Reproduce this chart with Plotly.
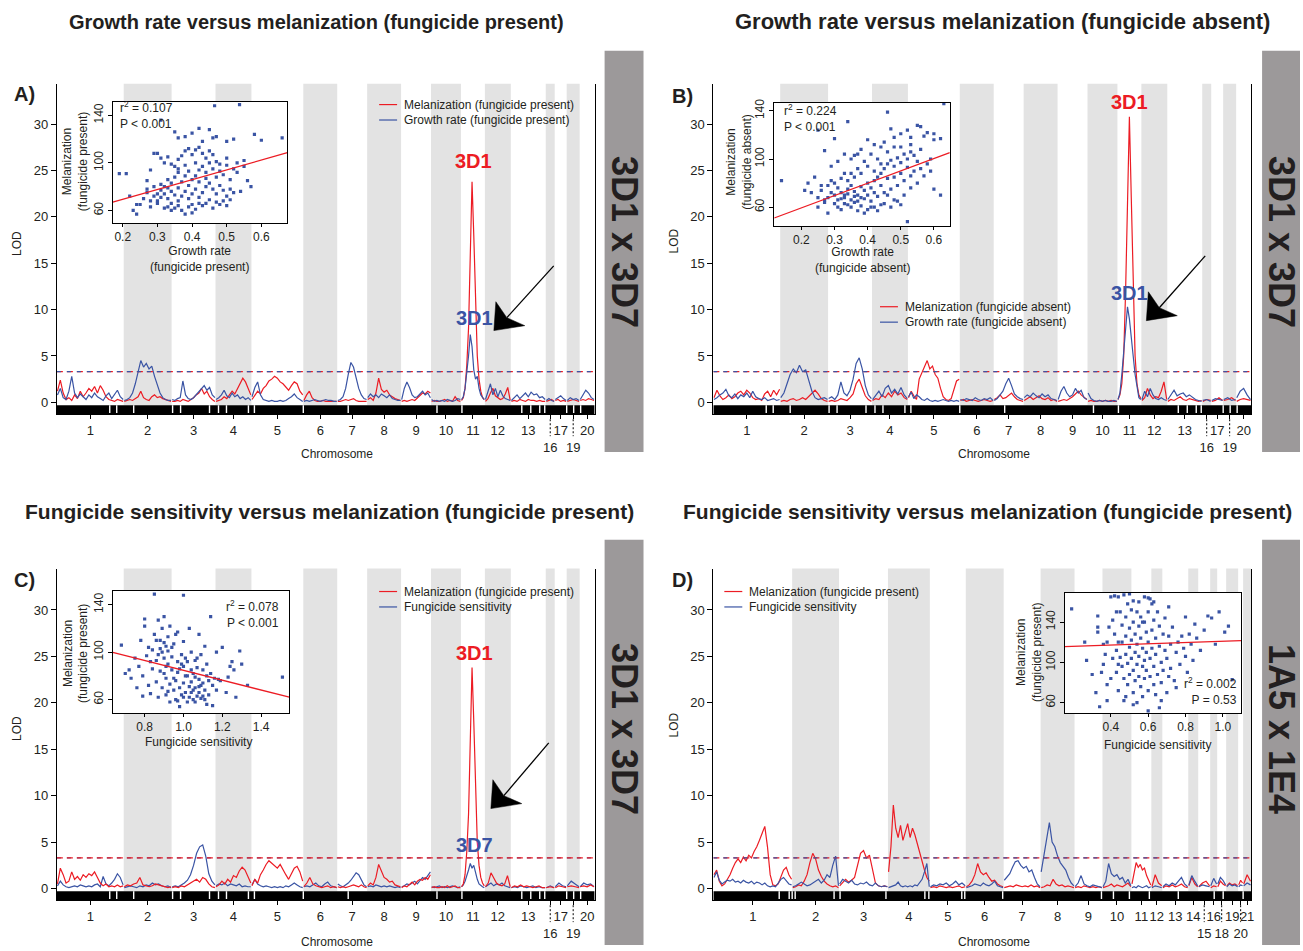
import plotly.graph_objects as go

W, H = 1303, 951
RED = "#ec1c24"
BLUE = "#3a54a4"
BAND = "#e3e3e3"
SIDE = "#9c999a"
TXT = "#231f20"
FONT = "Liberation Sans, Arial, Helvetica, sans-serif"

# ---------------- chromosome maps ----------------
CHR_3D = ["1", "2", "3", "4", "5", "6", "7", "8", "9", "10", "11", "12", "13", "16", "17", "19", "20"]
LEN_3D = [67, 48, 44, 36, 52, 34, 30, 34, 30, 30, 24, 26, 35, 9, 12, 13, 15]
LOW_3D = ["16", "19"]
GAPS_3D = [53, 60, 77, 116, 124, 153, 162, 170, 192, 198, 247, 292, 381, 406, 466, 475, 484, 489, 511, 518, 525]

CHR_1A = ["1", "2", "3", "4", "5", "6", "7", "8", "9", "10", "11", "12", "13", "14", "15", "16", "18", "19", "20", "21"]
LEN_1A = [79, 47, 49, 42, 36, 38, 37, 34, 28, 29, 20, 11, 26, 10, 12, 7, 9, 12, 5, 8]
LOW_1A = ["15", "18", "20"]
GAPS_1A = [66, 76, 79, 82, 121, 127, 173, 212, 216, 249, 252, 290, 389, 401, 417, 437, 466, 502, 511, 531]

THRESH = [3.3, 3.3, 3.3, 3.3]

# ---------------- LOD profiles (one list per chromosome) ----------------
A_RED = [
    [1.2, 2.4, 1.0, 0.3, 0.5, 0.2, 0.8, 0.4, 1.2, 0.6, 1.0, 1.5, 1.2, 1.7, 1.0, 1.8, 1.3, 0.6, 0.3, 0.2, 0.1, 0.3, 0.2, 0.1],
    [0.1, 0.2, 0.3, 0.2, 0.4, 0.6, 1.2, 0.5, 0.3, 0.2, 0.6, 0.8, 0.5, 0.6, 0.4, 0.3, 0.2, 0.1],
    [0.1, 0.1, 0.2, 0.1, 0.3, 0.2, 0.1, 0.3, 0.5, 0.8, 1.0, 1.5, 0.9, 1.2, 0.6, 0.3, 0.1],
    [0.1, 0.2, 0.3, 0.6, 0.4, 0.8, 1.2, 0.9, 1.5, 2.0, 2.6, 2.2, 1.5, 0.8],
    [0.3, 0.8, 1.2, 0.9, 1.5, 1.8, 2.3, 2.5, 2.8, 2.6, 2.2, 2.0, 1.6, 1.3, 1.8, 2.2, 2.0, 1.2, 0.8],
    [0.2, 0.8, 1.2, 0.5, 0.2, 0.1, 0.1, 0.2, 0.1, 0.1, 0.1, 0.1, 0.1],
    [0.1, 0.1, 0.2, 0.3, 0.2, 0.3, 0.4, 0.2, 0.1, 0.1, 0.1, 0.1],
    [0.3, 0.5, 0.2, 1.0, 2.6, 1.4, 1.1, 1.3, 0.8, 0.6, 0.4, 0.3, 0.2],
    [0.1, 0.2, 0.1, 0.2, 0.3, 0.2, 0.5, 0.8, 1.0, 0.9, 1.2, 1.0],
    [0.1, 0.2, 0.1, 0.1, 0.2, 0.3, 0.1, 0.2, 0.1, 0.6, 0.2, 0.1],
    [0.2, 0.5, 1.5, 4.0, 8.0, 15.0, 23.8, 18.0, 10.0, 5.0, 2.5, 1.2, 0.5, 0.3],
    [0.1, 0.4, 1.0, 1.5, 0.7, 0.5, 0.3, 0.4, 0.9, 1.6, 0.2],
    [0.1, 0.2, 0.1, 0.3, 0.2, 0.1, 0.3, 0.2, 0.2, 0.1, 0.2, 0.1, 0.1],
    [0.1, 0.2, 0.3, 0.1],
    [0.2, 0.3, 0.1, 0.2, 0.1],
    [0.1, 0.2, 0.3, 0.2, 0.1],
    [0.2, 0.3, 0.2, 0.4, 0.3, 0.2],
]
A_BLUE = [
    [0.8, 1.5, 0.5, 0.3, 1.2, 2.8, 1.0, 0.5, 0.9, 0.6, 0.3, 0.8, 0.5, 1.0, 0.6, 0.4, 0.2, 0.7, 1.0, 0.4, 0.8, 1.3, 0.6, 0.3],
    [0.2, 0.3, 0.5, 1.0, 2.0, 3.2, 4.5, 3.8, 4.2, 3.6, 3.9, 2.8, 2.0, 1.0, 0.5, 0.3, 0.2, 0.2],
    [0.3, 0.2, 0.4, 0.5, 2.3, 0.8, 0.4, 0.3, 0.5, 0.8, 1.2, 1.5, 1.8, 1.3, 1.6, 0.8, 0.5],
    [0.3, 0.5, 0.8, 1.3, 0.7, 0.5, 1.0, 0.6, 0.8, 0.4, 0.6, 0.3, 0.5, 0.2],
    [0.6, 1.6, 2.2, 0.8, 0.3, 0.2, 0.1, 0.2, 0.1, 0.1, 0.2, 0.1, 0.2, 0.4, 0.6, 0.9, 0.5, 0.3, 0.1],
    [0.1, 0.2, 0.1, 0.2, 0.3, 0.2, 0.1, 0.2, 0.3, 0.2, 0.2, 0.1, 0.1],
    [0.2, 0.3, 0.6, 1.5, 3.0, 4.3, 3.8, 2.5, 1.5, 0.8, 0.4, 0.3],
    [0.5, 0.9, 0.6, 0.8, 0.5, 0.9, 0.7, 0.5, 0.8, 0.4, 0.3, 0.2, 0.2],
    [0.3, 1.5, 2.2, 1.6, 0.8, 0.5, 0.6, 0.9, 1.2, 0.8, 1.0, 0.5],
    [0.3, 0.1, 0.2, 0.1, 0.2, 0.1, 0.3, 0.2, 0.1, 0.2, 0.4, 0.3],
    [0.3, 0.6, 1.5, 3.0, 5.0, 7.3, 6.0, 3.5, 2.5, 2.8, 1.5, 0.8, 0.5, 0.3],
    [0.3, 1.2, 2.0, 0.8, 1.5, 0.6, 1.3, 0.7, 0.4, 0.3, 0.2],
    [0.2, 0.5, 0.8, 0.4, 0.7, 1.0, 0.6, 1.1, 0.8, 0.9, 0.5, 0.6, 0.3],
    [0.2, 0.4, 0.2, 0.1],
    [0.3, 0.5, 0.7, 0.4, 0.2],
    [0.2, 0.5, 0.3, 0.4, 0.2],
    [0.3, 0.8, 1.3, 1.0, 0.5, 0.3],
]
B_RED = [
    [0.5, 1.3, 0.7, 0.3, 0.5, 0.8, 0.4, 0.6, 1.0, 1.2, 0.8, 1.3, 1.0, 0.5, 0.3, 0.4, 0.2, 0.9, 1.2, 0.6, 1.3, 0.8, 1.4],
    [0.1, 0.2, 0.1, 0.3, 0.4, 0.2, 0.3, 0.5, 0.3, 0.6, 1.0, 1.3, 0.9, 0.4, 0.2, 0.1],
    [0.1, 0.2, 0.1, 0.2, 0.4, 0.3, 0.2, 0.5, 0.9, 2.0, 2.5, 1.6, 0.7, 0.3, 0.1],
    [0.2, 0.4, 0.3, 0.8, 0.5, 1.0, 0.6, 1.2, 0.8, 1.0, 0.5, 0.3],
    [0.5, 1.2, 0.7, 0.3, 2.5, 3.2, 3.8, 4.5, 3.6, 3.9, 3.0, 2.6, 1.5, 0.6, 0.3, 0.2, 0.4, 1.5, 2.3, 2.5],
    [0.2, 0.3, 0.1, 0.2, 0.3, 0.2, 0.1, 0.2, 0.3, 0.2, 0.1, 0.2],
    [0.3, 0.5, 0.8, 0.4, 0.5, 0.8, 1.0, 0.6, 0.3, 0.2, 0.1],
    [0.2, 0.4, 0.6, 0.3, 0.5, 0.7, 0.4, 0.3, 0.5, 0.2, 0.3, 0.1],
    [0.1, 0.2, 0.3, 0.2, 0.4, 0.6, 0.9, 1.2, 0.8, 0.5, 0.3],
    [0.1, 0.2, 0.1, 0.1, 0.2, 0.1, 0.2, 0.1, 0.2, 0.1, 0.1],
    [0.3, 0.8, 2.0, 5.0, 12.0, 22.0, 30.8, 22.0, 12.0, 5.0, 2.0, 0.8, 0.4],
    [0.2, 0.5, 1.5, 0.8, 0.4, 0.6, 0.5, 1.2, 2.2, 0.3],
    [0.1, 0.3, 0.2, 0.4, 0.6, 0.3, 0.2, 0.4, 0.3, 0.2, 0.1, 0.2],
    [0.1, 0.3, 0.2],
    [0.1, 0.2, 0.5, 0.2],
    [0.2, 0.3, 0.5, 0.2],
    [0.1, 0.3, 0.4, 0.3, 0.2],
]
B_BLUE = [
    [0.3, 0.5, 0.8, 1.0, 1.4, 0.7, 0.5, 0.9, 0.4, 0.8, 0.6, 1.0, 0.5, 1.2, 0.6, 0.4, 0.3, 0.5, 0.2, 0.3, 0.4, 0.2, 0.3],
    [0.5, 1.0, 2.0, 3.0, 3.6, 3.2, 4.0, 3.3, 3.5, 2.2, 1.2, 0.5, 0.3, 0.4, 0.5, 0.3],
    [0.4, 0.6, 0.3, 0.8, 2.2, 1.0, 0.7, 1.3, 2.5, 4.2, 4.8, 3.6, 1.8, 0.8, 0.4],
    [0.3, 0.8, 1.2, 0.6, 1.5, 1.8, 1.0, 1.4, 0.9, 1.6, 0.8, 0.4],
    [0.6, 1.1, 0.4, 0.8, 0.6, 0.3, 0.2, 0.4, 0.2, 0.1, 0.2, 0.1, 0.2, 0.3, 0.2, 0.1, 0.2, 0.1, 0.2, 0.1],
    [0.3, 0.2, 0.4, 0.3, 0.2, 0.5, 0.3, 0.2, 0.4, 0.3, 0.5, 0.2],
    [0.2, 0.4, 0.8, 1.2, 2.0, 2.6, 1.8, 0.9, 0.6, 0.4, 0.3],
    [0.5, 0.8, 0.6, 1.0, 0.7, 0.5, 0.9, 0.6, 0.8, 0.4, 0.3, 0.2],
    [0.3, 1.2, 1.7, 1.0, 0.6, 0.8, 1.5, 1.0, 1.3, 0.5, 0.3],
    [1.0, 0.4, 0.2, 0.1, 0.2, 0.1, 0.2, 0.1, 0.1, 0.2, 0.1],
    [0.3, 1.0, 3.0, 5.5, 8.0, 10.3, 9.0, 6.5, 5.0, 3.0, 1.5, 0.5, 0.3],
    [0.3, 1.2, 0.6, 1.5, 0.8, 0.4, 0.3, 0.5, 0.3, 0.2],
    [0.3, 0.8, 1.3, 0.7, 0.9, 1.0, 0.6, 0.8, 0.5, 0.3, 0.2, 0.1],
    [0.2, 0.3, 0.1],
    [0.2, 0.4, 0.3, 0.2],
    [0.3, 0.5, 0.2, 0.3],
    [0.5, 1.2, 1.5, 0.8, 0.3],
]
C_RED = [
    [0.5, 2.2, 1.5, 0.6, 0.8, 1.8, 1.0, 1.3, 0.9, 1.5, 1.2, 1.6, 1.4, 1.8, 1.2, 0.6, 0.3, 0.5, 0.2, 0.3, 0.2, 0.4, 0.2, 0.3],
    [0.2, 0.4, 0.3, 0.5, 0.6, 1.2, 0.4, 0.3, 0.2, 0.3, 0.5, 0.4, 0.3, 0.2, 0.1, 0.2],
    [0.1, 0.2, 0.1, 0.3, 0.2, 0.4, 0.6, 0.8, 1.0, 0.7, 1.2, 1.0, 0.5, 0.2, 0.1],
    [0.2, 0.4, 0.8, 0.5, 1.0, 0.7, 1.4, 1.2, 1.9, 2.3, 2.0, 1.2, 0.6],
    [0.3, 1.0, 0.6, 1.5, 2.0, 2.6, 3.0, 2.7, 2.5, 2.2, 2.6, 2.0, 1.5, 1.0, 1.6, 2.2, 2.4, 1.8, 0.8],
    [0.2, 0.6, 1.2, 0.5, 0.3, 0.2, 0.1, 0.2, 0.3, 0.1, 0.2, 0.1],
    [0.2, 0.1, 0.2, 0.1, 0.2, 0.3, 0.4, 0.3, 0.2, 0.4, 0.2, 0.1],
    [0.3, 0.6, 0.4, 1.2, 2.6, 1.8, 1.2, 1.0, 0.7, 0.8, 0.4, 0.3, 0.2],
    [0.1, 0.3, 0.2, 0.5, 0.7, 0.4, 0.8, 1.0, 0.9, 1.2, 1.0, 1.5],
    [0.1, 0.2, 0.1, 0.1, 0.2, 0.1, 0.3, 0.1, 0.2, 0.3, 0.1, 0.1],
    [0.2, 0.5, 1.5, 4.0, 8.0, 15.0, 23.8, 18.0, 10.0, 5.0, 2.5, 1.2, 0.6, 0.3],
    [0.2, 0.6, 1.7, 1.2, 0.6, 0.4, 0.3, 0.5, 1.4, 0.2],
    [0.1, 0.3, 0.2, 0.4, 0.2, 0.3, 0.2, 0.1, 0.2, 0.3, 0.1, 0.1],
    [0.1, 0.2, 0.1],
    [0.1, 0.3, 0.2, 0.1],
    [0.2, 0.3, 0.2, 0.1],
    [0.2, 0.3, 0.2, 0.4, 0.2],
]
C_BLUE = [
    [0.3, 0.8, 0.4, 0.2, 0.1, 0.2, 0.3, 0.2, 0.4, 0.3, 0.2, 0.3, 0.2, 0.4, 0.5, 0.2, 1.3, 0.5, 0.3, 0.6, 1.0, 1.6, 1.2, 0.4],
    [0.1, 0.2, 0.3, 0.2, 0.1, 0.3, 0.2, 0.4, 0.3, 0.6, 0.4, 0.5, 0.3, 0.2, 0.3, 0.1],
    [0.2, 0.3, 0.2, 0.4, 0.6, 0.9, 1.5, 2.5, 3.8, 4.5, 4.7, 3.5, 1.6, 0.8, 0.4],
    [0.3, 0.5, 0.4, 0.6, 0.3, 0.5, 0.4, 0.3, 0.5, 0.2, 0.3, 0.2, 0.2],
    [0.4, 1.0, 0.5, 0.3, 0.2, 0.3, 0.2, 0.1, 0.2, 0.1, 0.2, 0.1, 0.3, 0.2, 0.4, 0.6, 0.4, 0.2, 0.1],
    [0.2, 0.3, 0.2, 0.4, 0.6, 0.3, 0.2, 0.5, 0.7, 0.3, 0.2, 0.1],
    [0.5, 0.3, 0.2, 0.4, 0.6, 0.9, 1.3, 1.7, 1.5, 0.9, 0.4, 0.2],
    [0.2, 0.3, 0.2, 0.4, 0.3, 0.2, 0.3, 0.2, 0.3, 0.2, 0.1, 0.2, 0.1],
    [0.2, 0.3, 0.5, 0.4, 0.6, 0.8, 0.5, 0.9, 1.2, 1.0, 1.4, 1.8],
    [0.2, 0.1, 0.2, 0.3, 0.1, 0.2, 0.1, 0.2, 0.3, 0.2, 0.1, 0.2],
    [0.2, 0.4, 0.8, 1.3, 2.0, 2.7, 2.2, 2.5, 1.6, 1.0, 0.5, 0.3, 0.2, 0.1],
    [0.2, 0.4, 0.6, 0.3, 0.5, 0.4, 0.6, 0.3, 0.2, 0.1],
    [0.1, 0.2, 0.1, 0.3, 0.2, 0.1, 0.2, 0.3, 0.1, 0.2, 0.1, 0.1],
    [0.1, 0.3, 0.1],
    [0.2, 0.6, 0.3, 0.2],
    [0.3, 0.8, 0.5, 0.2],
    [0.2, 0.6, 0.4, 0.5, 0.2],
]
D_RED = [
    [1.5, 2.0, 0.8, 0.3, 0.5, 1.0, 1.5, 2.2, 2.8, 3.2, 2.8, 3.4, 3.0, 3.6, 3.3, 4.0, 4.5, 5.2, 6.0, 6.7, 4.5, 1.5, 0.4, 0.3, 0.5, 1.2, 2.0, 2.3, 1.5, 1.0],
    [0.1, 0.2, 0.4, 0.3, 0.8, 1.5, 2.8, 3.8, 3.2, 2.0, 1.3, 0.8, 0.5, 0.3, 0.2, 0.3, 0.1],
    [0.3, 0.6, 1.0, 0.7, 0.9, 1.2, 2.5, 3.8, 4.1, 3.3, 3.6, 2.0, 0.6, 0.3, 0.2, 0.3, 0.2],
    [1.8, 4.5, 9.0, 6.5, 5.5, 6.8, 5.2, 6.0, 7.0, 5.5, 6.5, 5.8, 4.8, 3.8, 3.0, 2.0, 1.2, 0.8],
    [0.1, 0.2, 0.1, 0.3, 0.2, 0.1, 0.2, 0.1, 0.2, 0.3, 0.1, 0.2],
    [0.2, 0.4, 0.8, 1.5, 2.7, 1.8, 1.5, 1.7, 1.2, 0.8, 0.9, 0.5, 0.3, 0.2],
    [0.1, 0.2, 0.3, 0.2, 0.4, 0.3, 0.2, 0.3, 0.2, 0.4, 0.2, 0.3, 0.1],
    [0.1, 0.2, 0.4, 0.3, 1.0, 0.5, 0.3, 0.4, 0.2, 0.3, 0.2, 0.1],
    [0.1, 0.2, 0.1, 0.3, 0.2, 0.1, 0.2, 0.1, 0.2, 0.1],
    [0.1, 0.2, 0.3, 0.5, 0.2, 0.4, 0.3, 0.2, 0.4, 0.6, 0.2],
    [0.5, 1.8, 2.8, 2.3, 2.6, 2.0, 2.2, 1.4, 0.8, 0.4],
    [0.2, 1.5, 0.6, 0.3],
    [0.1, 0.3, 0.2, 0.4, 0.2, 0.3, 0.5, 0.2, 0.1],
    [0.3, 1.2, 0.5, 0.2],
    [0.2, 0.6, 0.8, 0.3],
    [0.1, 0.3, 0.2],
    [0.2, 0.8, 0.5, 0.3],
    [0.3, 0.6, 0.4, 0.5, 0.3],
    [0.4, 0.9, 0.6],
    [0.5, 1.5, 0.8],
]
D_BLUE = [
    [1.2, 1.8, 0.9, 0.5, 0.7, 0.9, 0.8, 1.0, 0.7, 0.8, 0.6, 0.9, 0.7, 0.6, 0.8, 0.5, 0.7, 0.6, 0.4, 0.6, 0.3, 0.2, 0.3, 0.2, 0.6, 1.0, 1.2, 0.8, 0.5, 0.4],
    [0.2, 0.3, 0.5, 0.7, 0.5, 0.3, 0.4, 0.6, 0.8, 1.0, 0.6, 0.9, 1.5, 1.2, 2.5, 3.5, 0.3],
    [0.5, 1.0, 0.8, 0.6, 0.9, 0.5, 0.4, 0.6, 0.5, 0.7, 0.4, 0.3, 0.6, 0.3, 0.2, 0.3, 0.2],
    [0.1, 0.2, 0.3, 0.4, 0.7, 0.3, 0.2, 0.3, 0.2, 0.3, 0.2, 0.4, 0.3, 0.6, 1.0, 1.8, 2.7, 0.2],
    [0.2, 0.4, 0.3, 0.5, 0.4, 0.6, 0.3, 0.5, 0.8, 0.4, 0.6, 0.3],
    [0.1, 0.2, 0.3, 0.5, 0.4, 0.3, 0.6, 0.4, 0.3, 0.5, 0.8, 0.3, 0.2, 0.1],
    [0.9, 1.2, 1.6, 2.3, 2.9, 3.0, 2.5, 2.2, 2.4, 1.8, 2.0, 1.2, 0.5, 0.2],
    [1.8, 3.5, 5.5, 7.1, 5.0, 4.5, 3.5, 2.8, 2.4, 2.0, 1.2, 0.6, 0.3],
    [0.2, 0.6, 1.4, 0.5, 0.3, 0.2, 0.4, 0.3, 0.2, 0.1],
    [0.2, 0.8, 2.7, 1.6, 1.3, 1.5, 1.0, 1.2, 0.6, 1.0, 0.3],
    [0.1, 0.2, 0.1, 0.3, 0.2, 0.1, 0.2, 0.3, 0.1, 0.2],
    [0.1, 0.3, 0.2, 0.1],
    [0.2, 0.5, 0.3, 0.6, 0.4, 0.8, 1.2, 0.5, 0.2],
    [0.4, 1.4, 0.8, 0.3],
    [0.2, 0.4, 0.3, 0.2],
    [0.3, 1.1, 0.5],
    [0.5, 1.2, 0.9, 0.4],
    [0.2, 0.5, 0.3, 0.4, 0.2],
    [0.2, 0.4, 0.3],
    [0.3, 0.6, 0.4],
]

# ---------------- inset scatter data (x, melanization) ----------------
SC_A = [(0.465, 148), (0.537, 149), (0.21, 91), (0.19, 91), (0.24, 57), (0.66, 121), (0.60, 119), (0.58, 124), (0.52, 120),
        (0.50, 118), (0.45, 128), (0.42, 129), (0.36, 121), (0.38, 122), (0.40, 125), (0.46, 121), (0.35, 126), (0.31, 136),
        (0.22, 72), (0.23, 60), (0.25, 65), (0.27, 75), (0.27, 78), (0.28, 94), (0.29, 108), (0.30, 108), (0.31, 104),
        (0.32, 100), (0.33, 105), (0.34, 99), (0.35, 97), (0.36, 103), (0.37, 106), (0.38, 110), (0.39, 112), (0.40, 107),
        (0.41, 111), (0.42, 113), (0.43, 108), (0.44, 104), (0.45, 110), (0.46, 107), (0.47, 101), (0.48, 99), (0.50, 104),
        (0.52, 95), (0.55, 102), (0.53, 92), (0.51, 86), (0.49, 90), (0.47, 88), (0.46, 95), (0.44, 92), (0.43, 97),
        (0.42, 94), (0.41, 89), (0.40, 86), (0.39, 93), (0.38, 89), (0.37, 84), (0.36, 92), (0.35, 88), (0.34, 83),
        (0.33, 86), (0.32, 80), (0.31, 77), (0.30, 74), (0.29, 72), (0.28, 68), (0.30, 68), (0.31, 71), (0.32, 74),
        (0.33, 70), (0.34, 76), (0.35, 73), (0.36, 68), (0.37, 72), (0.38, 76), (0.39, 70), (0.40, 74), (0.41, 78),
        (0.42, 71), (0.43, 75), (0.44, 80), (0.45, 83), (0.46, 78), (0.47, 74), (0.48, 81), (0.49, 77), (0.50, 72),
        (0.51, 78), (0.52, 75), (0.54, 76), (0.56, 85), (0.57, 80), (0.33, 63), (0.35, 62), (0.37, 60), (0.38, 57),
        (0.39, 63), (0.40, 58), (0.41, 61), (0.43, 64), (0.44, 66), (0.46, 62), (0.48, 65), (0.50, 64), (0.32, 62),
        (0.30, 66), (0.34, 66), (0.36, 64), (0.42, 66), (0.45, 69), (0.47, 67), (0.49, 68), (0.51, 69), (0.26, 70),
        (0.28, 63), (0.31, 82), (0.33, 79), (0.36, 79), (0.39, 81), (0.42, 84), (0.44, 87), (0.48, 93), (0.50, 98),
        (0.53, 100), (0.55, 97), (0.43, 118), (0.47, 122), (0.34, 60), (0.40, 65), (0.38, 98), (0.45, 100), (0.41, 100),
        (0.36, 95), (0.29, 80), (0.27, 85), (0.24, 65)]
SC_B = [(0.14, 82), (0.25, 124), (0.27, 107), (0.30, 117), (0.34, 131), (0.46, 139), (0.63, 146), (0.62, 117), (0.60, 121),
        (0.60, 116), (0.58, 122), (0.57, 119), (0.56, 127), (0.55, 128), (0.53, 118), (0.52, 124), (0.50, 121), (0.47, 125),
        (0.48, 118), (0.45, 114), (0.44, 110), (0.42, 112), (0.40, 116), (0.38, 108), (0.37, 104), (0.36, 103), (0.35, 100),
        (0.33, 104), (0.31, 98), (0.29, 94), (0.24, 85), (0.22, 80), (0.21, 74), (0.23, 72), (0.25, 68), (0.26, 74),
        (0.27, 66), (0.28, 78), (0.29, 82), (0.30, 80), (0.31, 76), (0.32, 72), (0.33, 70), (0.34, 75), (0.35, 78),
        (0.36, 73), (0.37, 70), (0.38, 77), (0.39, 74), (0.40, 80), (0.41, 76), (0.42, 82), (0.43, 85), (0.44, 88),
        (0.45, 92), (0.46, 96), (0.47, 99), (0.48, 94), (0.49, 101), (0.50, 97), (0.51, 104), (0.52, 100), (0.53, 106),
        (0.54, 103), (0.55, 98), (0.56, 108), (0.58, 96), (0.59, 90), (0.60, 75), (0.62, 70), (0.55, 80), (0.52, 48),
        (0.50, 62), (0.48, 66), (0.46, 70), (0.44, 62), (0.42, 60), (0.40, 58), (0.38, 61), (0.36, 64), (0.34, 62),
        (0.32, 58), (0.30, 63), (0.28, 55), (0.31, 66), (0.33, 68), (0.35, 66), (0.37, 65), (0.39, 67), (0.41, 65),
        (0.43, 69), (0.45, 72), (0.47, 75), (0.49, 78), (0.51, 82), (0.53, 86), (0.54, 90), (0.56, 92), (0.52, 93),
        (0.50, 88), (0.48, 85), (0.46, 84), (0.44, 78), (0.42, 72), (0.40, 70), (0.38, 68), (0.36, 69), (0.34, 71),
        (0.32, 67), (0.30, 70), (0.29, 72), (0.28, 68), (0.27, 64), (0.31, 60), (0.33, 63), (0.35, 60), (0.37, 57),
        (0.39, 55), (0.41, 60), (0.43, 57), (0.45, 63), (0.47, 60), (0.49, 65), (0.51, 70), (0.53, 76), (0.57, 86),
        (0.59, 100), (0.44, 96), (0.42, 90), (0.40, 94), (0.38, 88), (0.36, 85), (0.34, 82), (0.32, 84), (0.41, 104),
        (0.43, 100), (0.39, 98), (0.46, 106), (0.48, 110), (0.37, 92), (0.35, 88), (0.33, 88), (0.25, 60), (0.26, 78),
        (0.50, 110), (0.53, 112)]
SC_C = [(0.68, 106), (0.70, 82), (0.72, 85), (0.73, 78), (0.75, 95), (0.77, 88), (0.78, 110), (0.79, 80), (0.80, 128),
        (0.80, 122), (0.81, 97), (0.82, 72), (0.82, 104), (0.83, 65), (0.84, 86), (0.85, 149), (0.85, 115), (0.86, 110),
        (0.86, 93), (0.86, 75), (0.87, 127), (0.87, 62), (0.88, 103), (0.88, 84), (0.89, 120), (0.89, 100), (0.89, 70),
        (0.90, 130), (0.90, 108), (0.90, 95), (0.91, 88), (0.91, 78), (0.91, 64), (0.92, 113), (0.92, 101), (0.92, 90),
        (0.93, 122), (0.93, 73), (0.93, 58), (0.94, 96), (0.94, 85), (0.95, 68), (0.95, 107), (0.96, 76), (0.96, 60),
        (0.97, 117), (0.97, 92), (0.97, 83), (0.98, 70), (0.98, 54), (0.99, 98), (0.99, 64), (1.00, 148), (1.00, 109),
        (1.00, 88), (1.00, 74), (1.01, 95), (1.01, 66), (1.02, 80), (1.02, 58), (1.03, 120), (1.03, 71), (1.03, 62),
        (1.04, 100), (1.04, 85), (1.04, 75), (1.05, 68), (1.05, 60), (1.06, 93), (1.06, 79), (1.06, 70), (1.07, 87),
        (1.07, 63), (1.08, 115), (1.08, 77), (1.08, 66), (1.09, 98), (1.09, 72), (1.09, 61), (1.10, 85), (1.10, 74),
        (1.11, 68), (1.11, 105), (1.12, 80), (1.12, 56), (1.13, 76), (1.13, 64), (1.14, 130), (1.14, 82), (1.15, 72),
        (1.15, 55), (1.16, 78), (1.17, 100), (1.17, 68), (1.18, 77), (1.19, 76), (1.20, 104), (1.22, 66), (1.23, 79),
        (1.24, 88), (1.25, 92), (1.26, 85), (1.27, 62), (1.29, 101), (1.30, 90), (1.33, 72), (1.51, 79), (0.76, 70),
        (0.79, 63), (0.83, 92), (0.87, 98), (0.90, 82), (0.92, 67), (0.95, 78), (0.98, 86), (1.01, 80), (1.02, 92),
        (1.05, 82), (1.07, 95), (1.10, 63), (1.12, 90), (0.94, 104), (0.96, 115), (0.84, 102), (0.88, 110), (0.97, 59),
        (1.00, 62), (1.04, 66), (1.06, 58), (1.11, 60), (1.08, 71), (0.91, 105), (0.99, 90)]
SC_D = [(0.19, 153), (0.27, 102), (0.34, 56), (0.33, 146), (0.33, 135), (0.33, 130), (0.36, 118), (0.35, 90), (0.36, 98),
        (0.38, 120), (0.38, 78), (0.40, 165), (0.41, 142), (0.42, 166), (0.42, 128), (0.43, 112), (0.43, 90), (0.44, 165),
        (0.44, 72), (0.45, 150), (0.45, 105), (0.46, 137), (0.46, 120), (0.46, 96), (0.47, 167), (0.47, 84), (0.47, 62),
        (0.48, 145), (0.48, 126), (0.48, 108), (0.49, 158), (0.49, 99), (0.49, 78), (0.50, 168), (0.50, 134), (0.50, 115),
        (0.50, 88), (0.51, 152), (0.51, 122), (0.51, 104), (0.52, 161), (0.52, 140), (0.52, 92), (0.52, 70), (0.53, 128),
        (0.53, 110), (0.53, 82), (0.54, 150), (0.54, 118), (0.54, 98), (0.54, 60), (0.55, 160), (0.55, 136), (0.55, 106),
        (0.55, 86), (0.56, 145), (0.56, 124), (0.56, 76), (0.57, 114), (0.57, 96), (0.57, 66), (0.58, 165), (0.58, 140),
        (0.58, 102), (0.58, 84), (0.59, 130), (0.59, 110), (0.59, 92), (0.60, 164), (0.60, 150), (0.60, 120), (0.60, 72),
        (0.60, 52), (0.61, 163), (0.61, 104), (0.61, 86), (0.62, 158), (0.62, 132), (0.62, 114), (0.63, 142), (0.63, 96),
        (0.63, 78), (0.64, 124), (0.64, 108), (0.64, 68), (0.65, 150), (0.65, 88), (0.66, 136), (0.66, 116), (0.66, 55),
        (0.67, 100), (0.67, 80), (0.68, 128), (0.68, 92), (0.69, 144), (0.69, 112), (0.70, 104), (0.70, 70), (0.71, 126),
        (0.71, 86), (0.72, 118), (0.72, 94), (0.73, 135), (0.74, 82), (0.75, 110), (0.76, 120), (0.77, 98), (0.78, 126),
        (0.79, 114), (0.80, 145), (0.80, 106), (0.81, 90), (0.82, 128), (0.83, 118), (0.84, 102), (0.85, 138), (0.86, 124),
        (0.88, 112), (0.90, 132), (0.92, 146), (0.94, 144), (0.96, 118), (0.98, 150), (1.01, 130), (1.03, 136), (1.05, 83),
        (0.30, 88), (0.32, 70), (0.38, 62), (0.40, 84), (0.41, 104), (0.44, 120), (0.39, 135), (0.43, 150), (0.57, 140),
        (0.63, 160), (0.67, 62), (0.75, 75), (0.52, 58), (0.48, 66), (0.44, 98), (0.37, 108), (0.26, 120), (0.71, 155)]

# fitted regression line end points (x, y)
REG_A = ([0.171, 0.675], [67.0, 108.5])
REG_B = ([0.118, 0.648], [51.0, 105.3])
REG_C = ([0.6355, 1.5455], [99.8, 62.0])
REG_D = ([0.152, 1.098], [115.7, 121.6])


def px(x):
    return x / W


def py(y):
    return 1 - y / H


def lod_xy(lengths, vals):
    xs, ys = [], []
    start = 0
    for L, v in zip(lengths, vals):
        n = len(v)
        for k, val in enumerate(v):
            xs.append(start + 0.6 + (L - 1.2) * k / (n - 1))
            ys.append(val)
        xs.append(None)
        ys.append(None)
        start += L
    return xs, ys


PANELS = [
    dict(box=(57, 80, 596, 412), yr=(-1.29, 34.37), chrs=CHR_3D, lens=LEN_3D, low=LOW_3D, gaps=GAPS_3D,
         red=A_RED, blue=A_BLUE, sc=SC_A, reg=REG_A,
         inset=(113, 98, 288, 220), ixr=[0.171, 0.675], iyr=[49.4, 151.5], ixt=[0.2, 0.3, 0.4, 0.5, 0.6],
         red_top=False),
    dict(box=(715, 80, 1254, 412), yr=(-1.29, 34.37), chrs=CHR_3D, lens=LEN_3D, low=LOW_3D, gaps=GAPS_3D,
         red=B_RED, blue=B_BLUE, sc=SC_B, reg=REG_B,
         inset=(776, 99, 952, 223), ixr=[0.118, 0.648], iyr=[44.3, 146.9], ixt=[0.2, 0.3, 0.4, 0.5, 0.6],
         red_top=False),
    dict(box=(57, 567, 596, 900), yr=(-1.25, 34.45), chrs=CHR_3D, lens=LEN_3D, low=LOW_3D, gaps=GAPS_3D,
         red=C_RED, blue=C_BLUE, sc=SC_C, reg=REG_C,
         inset=(113, 589, 290, 712), ixr=[0.6355, 1.5455], iyr=[48.7, 152.0], ixt=[0.8, 1.0, 1.2, 1.4],
         red_top=True),
    dict(box=(715, 567, 1254, 900), yr=(-1.25, 34.45), chrs=CHR_1A, lens=LEN_1A, low=LOW_1A, gaps=GAPS_1A,
         red=D_RED, blue=D_BLUE, sc=SC_D, reg=REG_D,
         inset=(1067, 591, 1244, 712), ixr=[0.152, 1.098], iyr=[49.8, 169.3], ixt=[0.4, 0.6, 0.8, 1.0],
         red_top=False),
]

fig = go.Figure()
layout = dict(width=W, height=H, margin=dict(l=0, r=0, t=0, b=0), autosize=False,
              paper_bgcolor="white", plot_bgcolor="white", showlegend=False,
              font=dict(family=FONT, color=TXT, size=12))
shapes = []
annotations = []

for i, p in enumerate(PANELS):
    n = i + 1
    xid = "x" if n == 1 else f"x{n}"
    yid = "y" if n == 1 else f"y{n}"
    xk = "xaxis" if n == 1 else f"xaxis{n}"
    yk = "yaxis" if n == 1 else f"yaxis{n}"
    x0, y0, x1, y1 = p["box"]
    total = sum(p["lens"])
    hpx = y1 - y0
    rug_top = 9.0 / hpx

    centers, texts = [], []
    start = 0
    for c, L in zip(p["chrs"], p["lens"]):
        centers.append(start + L / 2)
        texts.append("<br>" + c if c in p["low"] else c)
        start += L

    layout[xk] = dict(domain=[px(x0), px(x1)], range=[0, total], anchor=yid, showline=True, linecolor="black",
                      linewidth=1, ticks="outside", ticklen=4, tickcolor="black", tickvals=centers, ticktext=texts,
                      tickangle=0, tickfont=dict(size=13, color=TXT, family=FONT), showgrid=False, zeroline=False,
                      fixedrange=True)
    layout[yk] = dict(domain=[py(y1), py(y0)], range=list(p["yr"]), anchor=xid, showline=True, mirror=True,
                      linecolor="black", linewidth=1, ticks="outside", ticklen=5, tickcolor="black",
                      tickvals=[0, 5, 10, 15, 20, 25, 30], tickfont=dict(size=13, color=TXT, family=FONT),
                      showgrid=False, zeroline=False, fixedrange=True)

    start = 0
    for j, L in enumerate(p["lens"]):
        if j % 2 == 1:
            shapes.append(dict(type="rect", xref=xid, yref=f"{yid} domain", x0=start, x1=start + L,
                               y0=rug_top, y1=1, fillcolor=BAND, line=dict(width=0), layer="below"))
        start += L
    shapes.append(dict(type="rect", xref=xid, yref=f"{yid} domain", x0=0, x1=total, y0=0, y1=rug_top,
                       fillcolor="black", line=dict(width=0), layer="below"))
    for g in p["gaps"]:
        shapes.append(dict(type="rect", xref=xid, yref=f"{yid} domain", x0=g - 0.7, x1=g + 0.7, y0=0.004,
                           y1=rug_top, fillcolor="white", line=dict(width=0), layer="below"))
    for c, cx in zip(p["chrs"], centers):
        if c in p["low"]:
            shapes.append(dict(type="line", xref=xid, yref=f"{yid} domain", x0=cx, x1=cx,
                               y0=-5.0 / hpx, y1=-22.0 / hpx, line=dict(color="black", width=1, dash="2px,2px")))
    bx0, by0, bx1, by1 = p["inset"]
    shapes.append(dict(type="rect", xref=f"{xid} domain", yref=f"{yid} domain",
                       x0=(bx0 - x0) / (x1 - x0), x1=(bx1 - x0) / (x1 - x0),
                       y0=(y1 - by1) / hpx, y1=(y1 - by0) / hpx,
                       fillcolor="white", line=dict(width=0), layer="below"))

    rx, ry = lod_xy(p["lens"], p["red"])
    bxs, bys = lod_xy(p["lens"], p["blue"])
    red_tr = go.Scatter(x=rx, y=ry, mode="lines", line=dict(color=RED, width=1.2), xaxis=xid, yaxis=yid,
                        connectgaps=False, hoverinfo="skip")
    blue_tr = go.Scatter(x=bxs, y=bys, mode="lines", line=dict(color=BLUE, width=1.2), xaxis=xid, yaxis=yid,
                         connectgaps=False, hoverinfo="skip")
    t = THRESH[i]
    thr_red = go.Scatter(x=[0, total], y=[t, t], mode="lines", line=dict(color=RED, width=1.3, dash="6px,4px"),
                         xaxis=xid, yaxis=yid, hoverinfo="skip")
    thr_blue = go.Scatter(x=[0, total], y=[t, t], mode="lines", line=dict(color=BLUE, width=1.3, dash="4px,6px"),
                          xaxis=xid, yaxis=yid, hoverinfo="skip")
    if p["red_top"]:
        fig.add_traces([blue_tr, red_tr, thr_blue, thr_red])
    else:
        fig.add_traces([red_tr, blue_tr, thr_red, thr_blue])

for i, p in enumerate(PANELS):
    n = i + 5
    xid, yid = f"x{n}", f"y{n}"
    bx0, by0, bx1, by1 = p["inset"]
    layout[f"xaxis{n}"] = dict(domain=[px(bx0), px(bx1)], range=p["ixr"], anchor=yid, showline=True, mirror=True,
                               linecolor="black", linewidth=1, ticks="outside", ticklen=3, tickcolor="black",
                               tickvals=p["ixt"], tickformat=".1f", tickfont=dict(size=12, color=TXT, family=FONT),
                               showgrid=False, zeroline=False, fixedrange=True)
    layout[f"yaxis{n}"] = dict(domain=[py(by1), py(by0)], range=p["iyr"], anchor=xid, showline=True, mirror=True,
                               linecolor="black", linewidth=1, ticks="outside", ticklen=4, tickcolor="black",
                               tickvals=[60, 100, 140], tickangle=-90, tickfont=dict(size=12, color=TXT, family=FONT),
                               showgrid=False, zeroline=False, fixedrange=True)
    sx = [a for a, b in p["sc"]]
    sy = [b for a, b in p["sc"]]
    fig.add_trace(go.Scatter(x=sx, y=sy, mode="markers", xaxis=xid, yaxis=yid, hoverinfo="skip",
                             marker=dict(color=BLUE, size=3.2, symbol="square", line=dict(width=0))))
    fig.add_trace(go.Scatter(x=p["reg"][0], y=p["reg"][1], mode="lines", xaxis=xid, yaxis=yid, hoverinfo="skip",
                             line=dict(color=RED, width=1.3)))


def ann(text, x, y, size=12, bold=False, color=TXT, xanchor="center", yanchor="middle", angle=0, align="center"):
    annotations.append(dict(text=f"<b>{text}</b>" if bold else text, x=px(x), y=py(y), xref="paper", yref="paper",
                            showarrow=False, xanchor=xanchor, yanchor=yanchor, textangle=angle, align=align,
                            font=dict(size=size, color=color, family=FONT)))


# titles
ann("Growth rate versus melanization (fungicide present)", 317, 18, size=20, bold=True)
ann("Growth rate versus melanization (fungicide absent)", 1005, 18, size=22, bold=True)
ann("Fungicide sensitivity versus melanization (fungicide present)", 330, 510, size=21, bold=True)
ann("Fungicide sensitivity versus melanization (fungicide present)", 990, 510, size=21, bold=True)
# panel letters
ann("A)", 25, 90, size=20, bold=True)
ann("B)", 684, 92, size=20, bold=True)
ann("C)", 25, 578, size=20, bold=True)
ann("D)", 684, 578, size=20, bold=True)
# axis titles
for (lx, ly), (cx, cy) in zip([(17, 240), (676, 238), (17, 727), (676, 724)],
                              [(338, 452), (996, 452), (338, 942), (996, 942)]):
    ann("LOD", lx, ly, size=12, angle=-90)
    ann("Chromosome", cx, cy, size=12)

# side bars
for (sx0, sy0, sx1, sy1), label in zip([(606, 47, 645, 450), (1265, 47, 1303, 450),
                                        (606, 538, 645, 945), (1265, 538, 1303, 945)],
                                       ["3D1 x 3D7", "3D1 x 3D7", "3D1 x 3D7", "1A5 x 1E4"]):
    shapes.append(dict(type="rect", xref="paper", yref="paper", x0=px(sx0), x1=px(sx1), y0=py(sy1), y1=py(sy0),
                       fillcolor=SIDE, line=dict(width=0), layer="above"))
    ann(label, (sx0 + sx1) / 2, 239 if sy0 < 100 else 728, size=36, bold=True, angle=90)

# legends (manual)
LEG = [(380, 101, "Melanization (fungicide present)", "Growth rate (fungicide present)"),
       (882, 304, "Melanization (fungicide absent)", "Growth rate (fungicide absent)"),
       (380, 590, "Melanization (fungicide present)", "Fungicide sensitivity"),
       (726, 590, "Melanization (fungicide present)", "Fungicide sensitivity")]
for lx, ly, t1, t2 in LEG:
    for k, (col, txt) in enumerate([(RED, t1), (BLUE, t2)]):
        yy = ly + 15.5 * k
        shapes.append(dict(type="line", xref="paper", yref="paper", x0=px(lx), x1=px(lx + 18), y0=py(yy), y1=py(yy),
                           line=dict(color=col, width=1.2)))
        ann(txt, lx + 23, yy, size=12, xanchor="left")

# inset axis titles
ann("Growth rate<br>(fungicide present)", 200, 256, size=12)
ann("Melanization<br>(fungicide present)", 76, 158, size=12, angle=-90)
ann("Growth rate<br>(fungicide absent)", 864, 257, size=12)
ann("Melanization<br>(fungicide absent)", 741, 159, size=12, angle=-90)
ann("Fungicide sensitivity", 199, 741, size=12)
ann("Melanization<br>(fungicide present)", 76, 652, size=12, angle=-90)
ann("Fungicide sensitivity", 1160, 744, size=12)
ann("Melanization<br>(fungicide present)", 1032, 651, size=12, angle=-90)

# inset statistics
ann("r<sup>2</sup> = 0.107<br>P < 0.001", 118, 111, size=12, xanchor="left", align="left")
ann("r<sup>2</sup> = 0.224<br>P < 0.001", 784, 114, size=12, xanchor="left", align="left")
ann("r<sup>2</sup> = 0.078<br>P < 0.001", 282, 613, size=12, xanchor="right", align="right")
ann("r<sup>2</sup> = 0.002<br>P = 0.53", 1242, 690, size=12, xanchor="right", align="right")

# peak labels
for txt, col, x, y in [("3D1", RED, 475, 158), ("3D1", BLUE, 476, 315), ("3D1", RED, 1132, 98),
                       ("3D1", BLUE, 1132, 290), ("3D1", RED, 476, 652), ("3D7", BLUE, 476, 845)]:
    ann(txt, x, y, size=20, bold=True, color=col)

# arrows (line + dart-shaped head), in page pixels
for tipx, tipy, tailx, taily in [(495, 328, 555, 263), (1149, 318, 1208, 253), (492, 808, 550, 742)]:
    c1 = (tipx + 2, tipy - 29)
    c2 = (tipx + 31, tipy - 5)
    notch = (tipx + 13, tipy - 13)
    shapes.append(dict(type="line", xref="paper", yref="paper", x0=px(tailx), y0=py(taily),
                       x1=px(notch[0]), y1=py(notch[1]), line=dict(color="black", width=1.3)))
    path = (f"M {px(tipx)} {py(tipy)} L {px(c1[0])} {py(c1[1])} L {px(notch[0])} {py(notch[1])} "
            f"L {px(c2[0])} {py(c2[1])} Z")
    shapes.append(dict(type="path", xref="paper", yref="paper", path=path, fillcolor="black",
                       line=dict(color="black", width=0.5)))

layout["shapes"] = shapes
layout["annotations"] = annotations
fig.update_layout(**layout)
fig.write_html("out.html", config={"displayModeBar": False},
               post_script="document.body.style.margin='0px';document.body.style.overflow='hidden';")
